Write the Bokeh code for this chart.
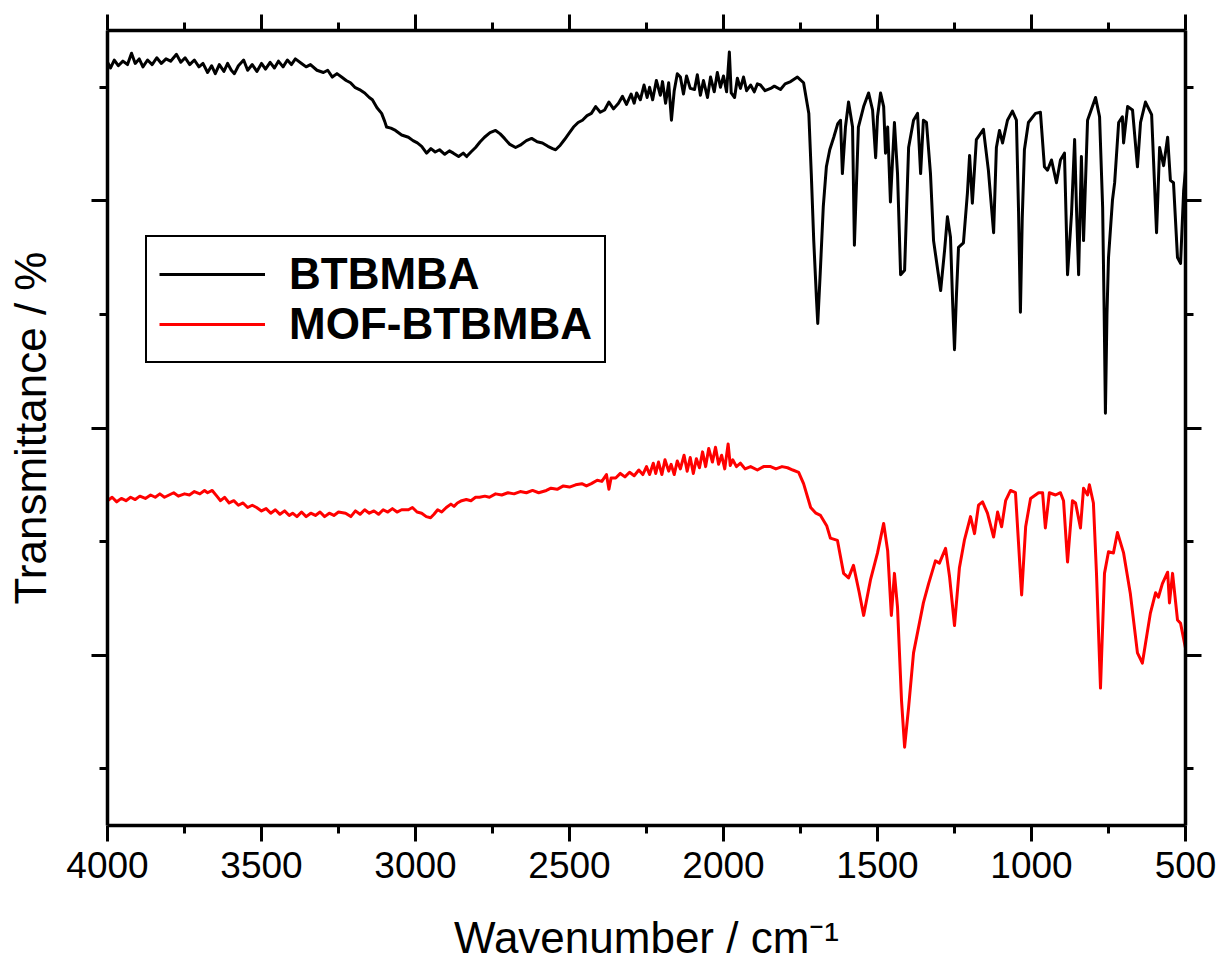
from bokeh.plotting import figure
from bokeh.models import Range1d, FixedTicker, LinearAxis, CustomJSTickFormatter
from bokeh.embed import file_html
from bokeh.resources import INLINE

# ---------------- data (wavenumber / cm-1, transmittance in arbitrary %) ----------------
BTBMBA_WN = [4000, 3990, 3978, 3965, 3950, 3935, 3922, 3910, 3897, 3885, 3870, 3855, 3840, 3825,
             3810, 3795, 3776, 3762, 3748, 3733, 3718, 3703, 3690, 3675, 3662, 3650, 3637, 3622,
             3610, 3598, 3588, 3575, 3558, 3545, 3530, 3515, 3500, 3487, 3472, 3458, 3445, 3430,
             3416, 3403, 3390, 3370, 3355, 3341, 3320, 3299, 3285, 3270, 3255, 3240, 3225, 3211,
             3197, 3182, 3165, 3150, 3140, 3125, 3110, 3100, 3094, 3080, 3065, 3045, 3023, 3008,
             2994, 2980, 2964, 2950, 2936, 2922, 2905, 2890, 2877, 2860, 2845, 2834, 2820, 2805,
             2790, 2776, 2758, 2740, 2725, 2711, 2695, 2675, 2660, 2640, 2623, 2605, 2588, 2570,
             2555, 2545, 2530, 2516, 2500, 2487, 2472, 2458, 2443, 2429,
             2415, 2400, 2386, 2372, 2357, 2341, 2328, 2315, 2300, 2290, 2282, 2270, 2258, 2248,
             2240, 2230, 2218, 2205, 2198, 2188, 2178, 2169, 2160, 2150, 2140, 2130, 2120, 2108,
             2094, 2085, 2075, 2065, 2052, 2042, 2030, 2020, 2010, 2000, 1990, 1981, 1975, 1964,
             1955, 1945, 1935, 1925, 1912, 1900, 1890, 1880, 1865, 1847, 1835, 1815, 1800, 1782,
             1760, 1740, 1723, 1715, 1707, 1698, 1694, 1686, 1676, 1666, 1655, 1642, 1629, 1620,
             1614, 1604, 1594, 1581, 1575, 1562, 1545, 1529, 1516, 1506, 1500, 1490, 1480, 1474,
             1467, 1458, 1445, 1435, 1425, 1412, 1399, 1383, 1370, 1360, 1351, 1341, 1328, 1318,
             1295, 1282, 1273, 1263, 1256, 1250, 1244, 1237, 1221, 1208, 1201, 1192, 1179, 1156,
             1140, 1123, 1114, 1104, 1094, 1078, 1062, 1049, 1042, 1036, 1030, 1023, 1010, 987,
             971, 958, 948, 935, 919, 906, 893, 883, 870, 860, 854, 847, 838, 831, 818, 792,
             779, 769, 764, 760, 755, 750, 737, 730, 717, 705, 701, 688, 672, 656, 646, 630,
             610, 594, 584, 571, 558, 549, 539, 526, 516, 506, 500]
BTBMBA_T = [67.2, 66.7, 67.4, 66.9, 67.3, 67.0, 68.0, 67.1, 67.5, 66.8, 67.4, 67.0, 67.6, 67.1,
            67.5, 67.3, 67.9, 67.2, 67.6, 67.0, 67.4, 66.8, 67.1, 66.3, 66.9, 66.2, 67.0, 66.4,
            67.1, 66.5, 66.2, 66.9, 67.4, 66.5, 67.0, 66.4, 67.1, 66.6, 67.2, 66.7, 67.3, 66.8,
            67.4, 67.0, 67.5, 67.1, 66.8, 67.0, 66.5, 66.3, 66.5, 65.9, 66.2, 65.9, 65.6, 65.4,
            65.0, 64.8, 64.5, 64.1, 63.9, 63.2, 62.7, 62.0, 61.5, 61.4, 61.2, 60.8, 60.6, 60.3,
            60.1, 59.8, 59.2, 59.6, 59.3, 59.5, 59.1, 59.4, 59.2, 58.9, 59.2, 58.9, 59.3, 59.7,
            60.2, 60.6, 61.0, 61.2, 60.9, 60.5, 60.0, 59.7, 59.9, 60.3, 60.5, 60.2, 60.1, 59.8,
            59.6, 59.5, 59.9, 60.4, 61.0, 61.5, 61.9, 62.1, 62.5, 62.7,
            63.3, 62.8, 63.0, 63.7, 63.1, 63.6, 64.2, 63.5, 64.4, 63.6, 64.5, 63.9, 65.2, 64.1,
            65.0, 63.9, 65.6, 64.3, 65.5, 63.6, 65.4, 62.1, 64.7, 66.2, 65.9, 64.4, 66.0, 64.9,
            64.8, 66.1, 64.3, 65.6, 64.1, 65.9, 64.6, 66.3, 65.0, 66.0, 64.6, 68.1, 64.5, 64.1,
            65.8, 64.9, 65.9, 64.7, 65.2, 64.6, 65.3, 65.2, 64.7, 64.9, 65.1, 64.8, 65.3, 65.5,
            65.9, 65.4, 62.7, 57.4, 51.5, 46.3, 44.2, 48.6, 54.5, 58.0, 59.5, 60.6, 61.8, 62.1,
            57.4, 61.5, 63.7, 61.5, 51.1, 61.5, 63.3, 64.5, 63.0, 58.8, 62.4, 64.5, 63.3, 59.2,
            61.5, 54.9, 61.9, 57.4, 48.5, 48.9, 59.7, 62.1, 62.7, 57.4, 62.1, 61.9, 57.4, 51.5,
            47.1, 50.7, 53.6, 51.8, 46.0, 41.9, 46.5, 50.9, 51.3, 55.7, 59.0, 54.8, 60.4, 61.3,
            57.7, 52.2, 59.7, 61.2, 60.1, 62.1, 62.9, 62.1, 54.0, 45.2, 53.5, 59.5, 61.9, 62.7,
            62.8, 58.0, 57.7, 58.6, 56.6, 58.6, 59.2, 48.5, 53.9, 60.4, 54.4, 48.5, 58.9, 51.5, 62.1, 64.1,
            62.4, 54.4, 45.0, 36.3, 45.0, 50.0, 55.1, 56.6, 61.9, 62.4, 60.1, 63.3, 63.0, 58.0, 61.9, 63.7,
            62.6, 52.2, 59.7, 58.1, 60.6, 56.8, 56.6, 50.0, 49.5, 55.9, 57.7]

MOF_WN = [4000, 3985, 3970, 3955, 3940, 3925, 3910, 3895, 3877, 3860, 3845, 3830, 3815, 3800,
          3785, 3770, 3750, 3734, 3718, 3700, 3685, 3675, 3660, 3645, 3633, 3620, 3605, 3590,
          3575, 3560, 3545, 3530, 3516, 3500, 3485, 3470, 3455, 3440, 3425, 3410, 3399, 3385,
          3370, 3355, 3340, 3325, 3310, 3295, 3280, 3265, 3250, 3227, 3210, 3195, 3180, 3165,
          3150, 3135, 3120, 3105, 3090, 3075, 3060, 3045, 3023, 3010, 2995, 2980, 2965, 2951,
          2940, 2928, 2915, 2900, 2885, 2875, 2864, 2850, 2835, 2820, 2805, 2792, 2775, 2760,
          2740, 2720, 2700, 2680, 2660, 2640, 2620, 2600, 2575, 2560, 2540, 2520, 2500, 2480,
          2460, 2445, 2429, 2410, 2395, 2380, 2372, 2365, 2350, 2335, 2320, 2305, 2290, 2275,
          2262, 2250, 2240, 2228, 2220, 2211, 2200, 2190, 2178, 2170, 2160, 2150, 2140, 2128,
          2118, 2108, 2098, 2088, 2078, 2068, 2058, 2048, 2036, 2026, 2016, 2006, 1996, 1985,
          1978, 1970, 1958, 1945, 1930, 1912, 1890, 1870, 1847, 1830, 1810, 1792, 1775, 1756,
          1740, 1717, 1700, 1685, 1665, 1653, 1630, 1610, 1594, 1578, 1560, 1545, 1523, 1500,
          1480, 1467, 1455, 1445, 1435, 1422, 1412, 1399, 1383, 1351, 1334, 1312, 1299, 1279,
          1266, 1250, 1234, 1218, 1198, 1185, 1172, 1159, 1143, 1123, 1110, 1097, 1084, 1068,
          1052, 1032, 1019, 1003, 977, 964, 955, 942, 922, 906, 896, 883, 867, 857, 841, 831,
          818, 812, 799, 789, 776, 763, 750, 734, 721, 701, 679, 656, 640, 630, 614, 597, 588,
          575, 558, 552, 542, 526, 516, 500]
MOF_T = [28.6, 28.9, 28.5, 28.8, 28.6, 28.9, 28.7, 29.0, 28.8, 29.1, 28.9, 29.2, 28.9, 29.1,
         29.3, 29.0, 29.2, 29.1, 29.4, 29.2, 29.5, 29.3, 29.5, 29.0, 28.6, 28.9, 28.4, 28.6,
         28.2, 28.4, 28.0, 28.2, 28.0, 27.7, 27.9, 27.5, 27.8, 27.4, 27.7, 27.3, 27.5, 27.2,
         27.6, 27.2, 27.5, 27.3, 27.6, 27.2, 27.5, 27.3, 27.6, 27.5, 27.2, 27.7, 27.4, 27.8,
         27.5, 27.7, 27.4, 27.8, 27.6, 27.9, 27.6, 27.8, 27.8, 28.0, 27.6, 27.5, 27.2, 27.1,
         27.4, 27.8, 27.6, 28.0, 28.3, 28.1, 28.4, 28.6, 28.7, 28.6, 28.9, 28.9, 29.0, 28.9,
         29.2, 29.1, 29.3, 29.2, 29.4, 29.3, 29.5, 29.3, 29.5, 29.7, 29.6, 29.9, 29.8, 30.0,
         30.1, 29.9, 30.1, 30.4, 30.3, 30.9, 29.6, 30.6, 30.6, 31.0, 30.7, 31.1, 30.8, 31.3,
         30.9, 31.6, 30.9, 31.9, 31.0, 32.0, 30.9, 32.2, 31.2, 31.8, 30.9, 32.1, 31.4, 32.6,
         31.2, 32.4, 31.0, 32.3, 31.5, 32.9, 31.6, 33.2, 32.0, 33.3, 31.8, 32.6, 31.4, 33.6,
         31.7, 32.2, 31.6, 31.9, 31.4, 31.6, 31.3, 31.6, 31.6, 31.4, 31.6, 31.5, 31.3, 31.1,
         30.1, 28.0, 27.5, 27.3, 26.4, 25.3, 25.1, 22.2, 21.8, 22.9, 20.6, 18.5, 21.6, 24.0,
         26.6, 24.2, 18.5, 22.2, 19.2, 11.0, 6.9, 10.4, 15.2, 19.6, 21.3, 23.3, 23.1, 24.4,
         21.9, 17.6, 22.7, 25.1, 27.2, 25.7, 28.2, 28.5, 27.5, 25.4, 27.6, 26.3, 28.6, 29.5,
         29.3, 20.3, 26.3, 28.8, 29.3, 29.3, 26.2, 29.3, 29.1, 29.3, 28.6, 23.2, 28.6, 28.4, 26.2, 29.7,
         29.1, 30.0, 28.4, 22.2, 12.1, 22.2, 24.1, 24.0, 25.8, 24.0, 20.4, 15.2, 14.3, 16.0, 18.7, 20.5, 20.1,
         21.3, 22.3, 19.6, 22.2, 18.1, 17.8, 15.6]

X_MAJOR = [4000, 3500, 3000, 2500, 2000, 1500, 1000, 500]
X_MINOR = [3750, 3250, 2750, 2250, 1750, 1250, 750]
Y_MAJOR = [15, 35, 55]
Y_MINOR = [5, 25, 45, 65]

FONT = "Liberation Sans"

p = figure(width=1220, height=965, output_backend="svg", toolbar_location=None,
           x_range=Range1d(4000, 500), y_range=Range1d(0, 70),
           min_border_left=107, min_border_right=35, min_border_top=30, min_border_bottom=140,
           x_axis_label="Wavenumber / cm\u207b\u00b9", y_axis_label="Transmittance / %")
p.background_fill_color = "white"
p.border_fill_color = "white"
p.outline_line_color = None
p.xgrid.visible = False
p.ygrid.visible = False

bx = p.below[0]
ly = p.left[0]

p.line(BTBMBA_WN, BTBMBA_T, line_color="black", line_width=3, line_join="round",
       legend_label="BTBMBA")
p.line(MOF_WN, MOF_T, line_color="#ff0000", line_width=3, line_join="round",
       legend_label="MOF-BTBMBA")

xt = FixedTicker(ticks=X_MAJOR, minor_ticks=X_MINOR)
yt = FixedTicker(ticks=Y_MAJOR, minor_ticks=Y_MINOR)
blank = CustomJSTickFormatter(code="return '';")

top = LinearAxis(ticker=xt, formatter=blank)
right = LinearAxis(ticker=yt, formatter=blank)
p.add_layout(top, "above")
p.add_layout(right, "right")

for ax in [bx, ly, top, right]:
    ax.axis_line_width = 3.5
    ax.axis_line_color = "black"
    ax.major_tick_line_width = 3
    ax.minor_tick_line_width = 3
    ax.major_tick_line_color = "black"
    ax.minor_tick_line_color = "black"
    ax.major_tick_in = 0
    ax.major_tick_out = 16
    ax.minor_tick_in = 0
    ax.minor_tick_out = 8

bx.ticker = xt
bx.major_label_text_font = FONT
bx.major_label_text_font_size = "37px"
bx.major_label_text_color = "black"
bx.major_label_standoff = 10
bx.axis_label_text_font = FONT
bx.axis_label_text_font_size = "44px"
bx.axis_label_text_font_style = "normal"
bx.axis_label_text_color = "black"
bx.axis_label_standoff = 32

ly.ticker = yt
ly.formatter = blank
ly.major_label_text_font_size = "1px"
ly.major_label_standoff = 0
ly.axis_label_text_font = FONT
ly.axis_label_text_font_size = "44px"
ly.axis_label_text_font_style = "normal"
ly.axis_label_text_color = "black"
ly.axis_label_standoff = 37

for ax in [top, right]:
    ax.major_label_text_font_size = "1px"
    ax.major_label_standoff = 0

lg = p.legend[0]
lg.location = (38, 462)
lg.label_text_font = FONT
lg.label_text_font_style = "bold"
lg.label_text_font_size = "44px"
lg.label_text_color = "black"
lg.glyph_width = 106
lg.glyph_height = 36
lg.label_standoff = 24
lg.padding = 12
lg.spacing = 0
lg.margin = 0
lg.border_line_color = "black"
lg.border_line_alpha = 1
lg.border_line_width = 2.5
lg.background_fill_color = "white"
lg.background_fill_alpha = 1

open("out.html", "w").write(file_html(p, INLINE))
